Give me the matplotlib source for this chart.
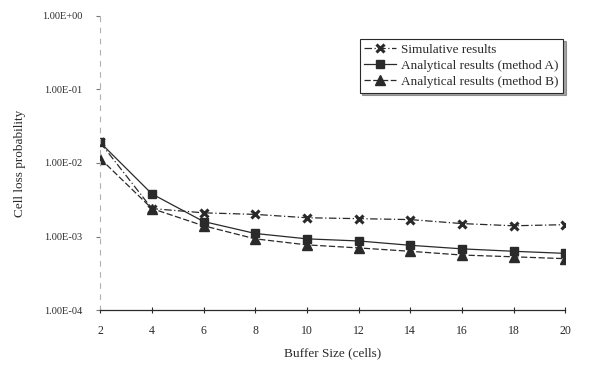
import matplotlib
matplotlib.use("Agg")
import matplotlib.pyplot as plt
from matplotlib.ticker import FixedLocator, FuncFormatter

# buffer sizes (cells)
buffer_size = [2, 4, 6, 8, 10, 12, 14, 16, 18, 20]

# cell loss probability
simulative = [1.9e-2, 2.4e-3, 2.1e-3, 2.0e-3, 1.8e-3, 1.75e-3, 1.7e-3, 1.5e-3, 1.4e-3, 1.45e-3]
method_a = [1.9e-2, 3.8e-3, 1.6e-3, 1.1e-3, 9.3e-4, 8.7e-4, 7.6e-4, 6.8e-4, 6.3e-4, 5.9e-4]
method_b = [1.15e-2, 2.4e-3, 1.4e-3, 9.3e-4, 7.7e-4, 7.0e-4, 6.3e-4, 5.6e-4, 5.3e-4, 5.0e-4]

y_ticks = [1e-4, 1e-3, 1e-2, 1e-1, 1e0]
y_tick_labels = ["1.00E-04", "1.00E-03", "1.00E-02", "1.00E-01", "1.00E+00"]

plt.rcParams['font.family'] = ['Liberation Serif', 'DejaVu Serif']
ink = "#2a2a2a"

fig = plt.figure(figsize=(6, 3.7), dpi=100)
ax = fig.add_axes([0.167, 0.162, 0.775, 0.795])

ax.plot(buffer_size, simulative, color=ink, lw=0.9, linestyle=(0, (6, 2, 1, 2)),
        marker="x", ms=5.5, mew=2.2, label="Simulative results")
ax.plot(buffer_size, method_a, color=ink, lw=0.9, linestyle="-",
        marker="s", ms=6, label="Analytical results (method A)")
ax.plot(buffer_size, method_b, color=ink, lw=0.9, linestyle=(0, (5, 2)),
        marker="^", ms=6.5, label="Analytical results (method B)")

ax.set_yscale("log")
ax.set_ylim(1e-4, 1e0)
ax.set_xlim(2, 20)
ax.yaxis.set_major_locator(FixedLocator(y_ticks))
ax.yaxis.set_major_formatter(FuncFormatter(lambda v, p: y_tick_labels[y_ticks.index(v)] if v in y_ticks else ""))
ax.yaxis.set_minor_locator(FixedLocator([]))
ax.set_xticks(buffer_size)

for side in ["top", "right"]:
    ax.spines[side].set_visible(False)
ax.spines["left"].set_linestyle((0, (4, 6)))
ax.spines["left"].set_color("#b0b0b0")
ax.spines["left"].set_linewidth(0.8)
ax.spines["bottom"].set_color(ink)
ax.spines["bottom"].set_linewidth(0.9)

ax.tick_params(axis="y", direction="out", length=3, width=0.8, color="#777777",
               labelsize=7.5, labelcolor=ink, pad=10)
ax.tick_params(axis="x", direction="inout", length=5, width=0.8, color=ink,
               labelsize=8.5, labelcolor=ink, pad=8)

ax.set_xlabel("Buffer Size (cells)", fontsize=9.5, color=ink, labelpad=8)
ax.set_ylabel("Cell loss probability", fontsize=9.5, color=ink, labelpad=11)

leg = ax.legend(loc="upper right", bbox_to_anchor=(1.01, 0.945), fontsize=9.5,
                frameon=True, fancybox=False, shadow=True, borderpad=0.35,
                labelspacing=0.3, handlelength=2.4, handletextpad=0.4)
leg.get_frame().set_edgecolor(ink)
leg.get_frame().set_linewidth(0.8)
for t in leg.get_texts():
    t.set_color(ink)

fig.savefig("out.png", dpi=100)
